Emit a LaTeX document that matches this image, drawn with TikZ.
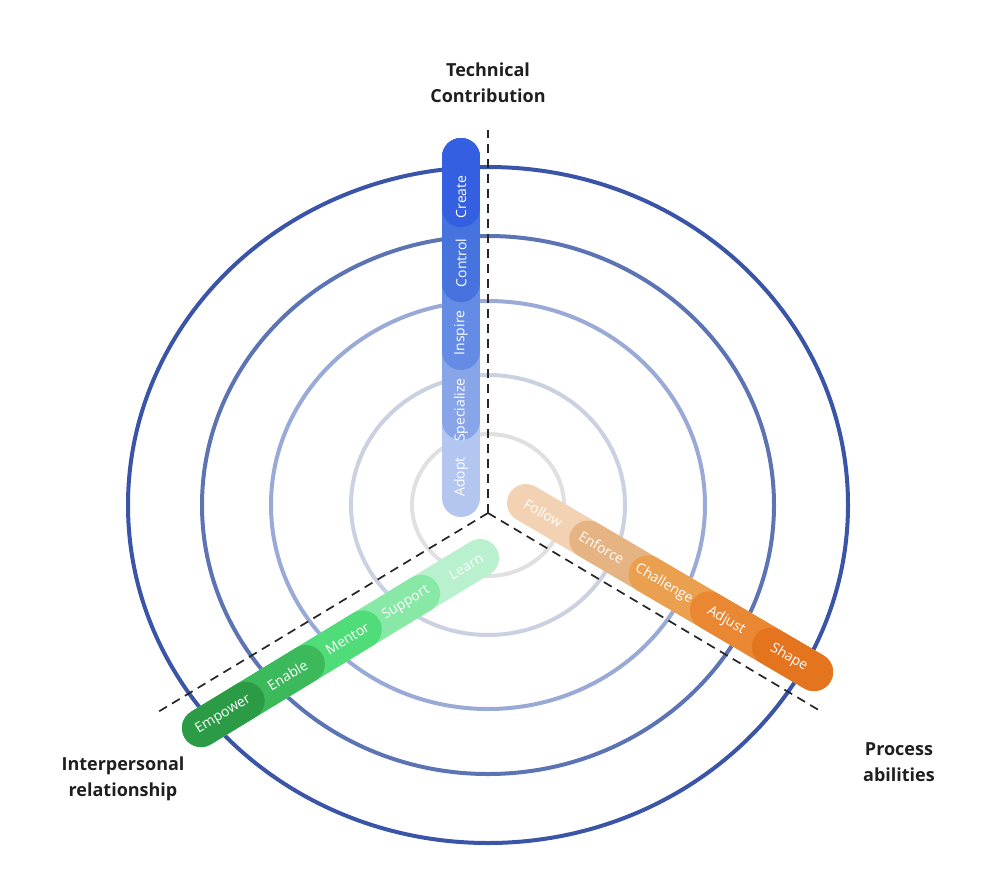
\documentclass[tikz,border=0pt]{standalone}
\usepackage{fontspec}
\setmainfont{Open Sans}
\usetikzlibrary{calc}

% ring colours, outer to inner
\definecolor{ringA}{HTML}{3A55A8}
\definecolor{ringB}{HTML}{5C74B4}
\definecolor{ringC}{HTML}{9AAAD6}
\definecolor{ringD}{HTML}{CBD1E0}
\definecolor{ringE}{HTML}{E0E0E2}
% bar colours, inner to outer
\definecolor{tc1}{HTML}{B2C6F0}
\definecolor{tc2}{HTML}{87A5E8}
\definecolor{tc3}{HTML}{648CE4}
\definecolor{tc4}{HTML}{4673DE}
\definecolor{tc5}{HTML}{345FE1}
\definecolor{pa1}{HTML}{F2D2B2}
\definecolor{pa2}{HTML}{E6B482}
\definecolor{pa3}{HTML}{EBA050}
\definecolor{pa4}{HTML}{E98732}
\definecolor{pa5}{HTML}{E4741E}
\definecolor{ir1}{HTML}{B9F0CD}
\definecolor{ir2}{HTML}{87E9A5}
\definecolor{ir3}{HTML}{50DC78}
\definecolor{ir4}{HTML}{3CB95A}
\definecolor{ir5}{HTML}{2B9B46}

\begin{document}
\begin{tikzpicture}[x=1pt, y=-1pt,
    ring/.style={line width=4pt},
    axis/.style={dashed, line width=1.7pt, dash pattern=on 9pt off 6pt, black!85},
    capsule/.style={line width=38pt, line cap=round},
    tag/.style={sloped, inner sep=0pt, text=white, font=\fontsize{14}{16}\selectfont},
    title/.style={align=center, text=black!88, font=\bfseries\fontsize{18}{26}\selectfont}]

    \useasboundingbox (0,0) rectangle (982,883);

    % The five rings
    \foreach \rx/\ry/\c in {360/338/ringA, 286/269/ringB, 217/204/ringC, 137/130/ringD, 76/71/ringE} {
        \draw[ring, \c] (488,505) ellipse[x radius=\rx, y radius=\ry];
    }

    % The three dashed axes
    \coordinate (o) at (488,513);
    \coordinate (tc-end) at (488,130);
    \coordinate (pa-end) at (822,712);
    \coordinate (ir-end) at (158,712);
    \foreach \e in {tc-end, pa-end, ir-end} {
        \draw[axis] (o) -- (\e);
    }

    % Bar ends
    \coordinate (tc-in) at (461,498);
    \coordinate (tc-out) at (461,157);
    \coordinate (pa-in) at (526,503);
    \coordinate (pa-out) at (814,672);
    \coordinate (ir-in) at (480,558);
    \coordinate (ir-out) at (201,728);

    % Stacked capsules, lightest first
    \foreach \k/\f in {1/0, 2/.226, 3/.431, 4/.63, 5/.85} {
        \draw[capsule, tc\k] ($(tc-in)!\f!(tc-out)$) -- (tc-out);
    }
    \foreach \k/\f in {1/0, 2/.216, 3/.422, 4/.635, 5/.85} {
        \draw[capsule, pa\k] ($(pa-in)!\f!(pa-out)$) -- (pa-out);
    }
    \foreach \k/\f in {1/0, 2/.211, 3/.42, 4/.624, 5/.84} {
        \draw[capsule, ir\k] ($(ir-in)!\f!(ir-out)$) -- (ir-out);
    }

    % Level labels
    \foreach \k/\p/\t in {1/.062/Adopt, 2/.258/Specialize, 3/.484/Inspire, 4/.689/Control, 5/.883/Create} {
        \path (tc-in) -- (tc-out) node[tag, pos=\p] (tc-\k) {\t};
    }
    \foreach \k/\p/\t in {1/.06/Follow, 2/.263/Enforce, 3/.479/Challenge, 4/.695/Adjust, 5/.913/Shape} {
        \path (pa-in) -- (pa-out) node[tag, pos=\p] (pa-\k) {\t};
    }
    \foreach \k/\p/\t in {1/.05/Learn, 2/.265/Support, 3/.475/Mentor, 4/.69/Enable, 5/.92/Empower} {
        \path (ir-in) -- (ir-out) node[tag, pos=\p] (ir-\k) {\t};
    }

    % Axis titles
    \node[title] (tc-title) at (488,83) {Technical\\Contribution};
    \node[title] (pa-title) at (899,762) {Process\\abilities};
    \node[title] (ir-title) at (123,779) {Interpersonal\\relationship};
\end{tikzpicture}
\end{document}
